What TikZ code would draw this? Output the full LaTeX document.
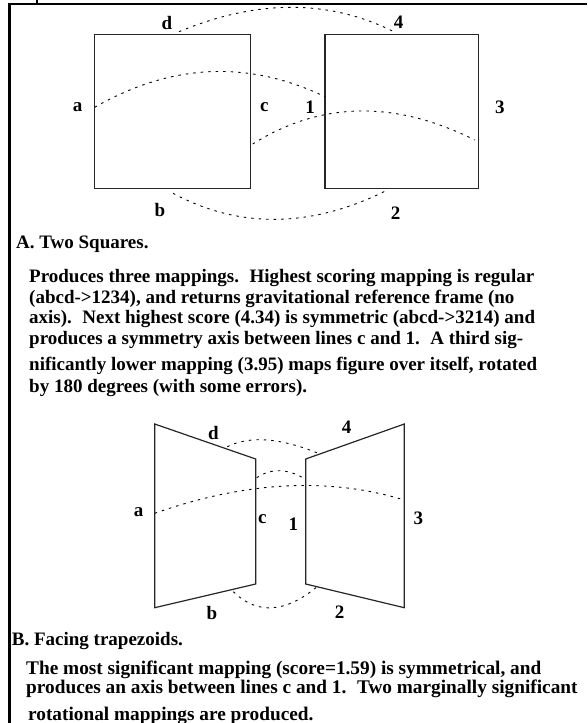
\documentclass[tikz,border=0pt]{standalone}
\usepackage{fontspec}
\setmainfont{Liberation Serif}
\newcommand{\sgap}{\hspace{0.55em}}
\begin{document}
\begin{tikzpicture}[x=1pt, y=-1pt,
      shapeline/.style={draw=black!85, line width=1.2pt},
      maparc/.style={draw=black, line width=0.9pt, dash pattern=on 2.5pt off 5pt},
      framestyle/.style={draw=black, line width=2.6pt},
      lbl/.style={font=\fontsize{19}{20}\selectfont\bfseries, inner sep=0pt},
      txt/.style={font=\fontsize{19}{20}\selectfont\bfseries, inner sep=0pt, anchor=base west},
      txtb/.style={txt, font=\fontsize{19.3}{20}\selectfont\bfseries}]
      \useasboundingbox (0,0) rectangle (587,723);

      % --- A. Two squares ---
      \draw[shapeline] (94.7,34.3) rectangle (250.8,188.3);
      \draw[shapeline] (325,34.3) rectangle (478.5,188.3);

      \node[lbl] (sqd) at (167,22.7) {d};
      \node[lbl] (sq4) at (398.7,22.7) {4};
      \node[lbl] (sqa) at (77.7,107.3) {a};
      \node[lbl] (sqc) at (264.3,107) {c};
      \node[lbl] (sq1) at (310,107) {1};
      \node[lbl] (sq3) at (499.8,107) {3};
      \node[lbl] (sqb) at (160,210) {b};
      \node[lbl] (sq2) at (395.7,213.3) {2};

      % arc end points on the square edges
      \coordinate (sqdA) at (179,31.7);   \coordinate (sq4A) at (395,32.3);
      \coordinate (sqaA) at (94.7,107.3); \coordinate (sq1A) at (325,96.7);
      \coordinate (sqcA) at (252.7,144);  \coordinate (sq3A) at (474.7,140);
      \coordinate (sqbA) at (173,193.3);  \coordinate (sq2A) at (387.5,190);

      \draw[maparc] (sqdA) .. controls (257.7,-1) and (329.7,-0.8) .. (sq4A);
      \draw[maparc] (sqaA) .. controls (171.2,63.4) and (248,59.8) .. (sq1A);
      \draw[maparc] (sqcA) .. controls (320.9,101.3) and (394.9,100) .. (sq3A);
      \draw[maparc] (sqbA) .. controls (240.1,229.1) and (311.6,228) .. (sq2A);

      \node[txt] (headA) at (16,248) {A. Two Squares.};
      \node[txt] (textA1) at (29,282.5) {Produces three mappings.\sgap Highest scoring mapping is regular};
      \node[txt] (textA2) at (29,303) {(abcd->1234), and returns gravitational reference frame (no};
      \node[txt] (textA3) at (29,323.5) {axis).\sgap Next highest score (4.34) is symmetric (abcd->3214) and};
      \node[txt] (textA4) at (29,344) {produces a symmetry axis between lines c and 1.\sgap A third sig-};
      \node[txt] (textA5) at (29,370) {nificantly lower mapping (3.95) maps figure over itself, rotated};
      \node[txt] (textA6) at (29,392) {by 180 degrees (with some errors).};

      % --- B. Facing trapezoids ---
      \draw[shapeline] (154.7,424) -- (255.7,459) -- (255.7,584) -- (154.7,607.7) -- cycle;
      \draw[shapeline] (305.7,459) -- (404.3,424) -- (404.3,607.7) -- (305.7,584) -- cycle;

      \node[lbl] (trd) at (213.3,432.7) {d};
      \node[lbl] (tr4) at (346.7,427.3) {4};
      \node[lbl] (tra) at (138.5,512) {a};
      \node[lbl] (trc) at (262.3,519) {c};
      \node[lbl] (tr1) at (293.3,524) {1};
      \node[lbl] (tr3) at (418.3,518.3) {3};
      \node[lbl] (trb) at (212,613) {b};
      \node[lbl] (tr2) at (339.5,612) {2};

      \coordinate (trdA) at (227.3,446.7); \coordinate (tr4A) at (318.3,453.3);
      \coordinate (trcA) at (256.7,477.7); \coordinate (tr1A) at (305.7,479.3);
      \coordinate (traA) at (154.7,513.3); \coordinate (tr3A) at (404.3,500);
      \coordinate (trbA) at (233.3,591.7); \coordinate (tr2A) at (320,584.3);

      \draw[maparc] (trdA) .. controls (249.5,435.6) and (279.8,437.7) .. (tr4A);
      \draw[maparc] (trcA) .. controls (271.4,467.8) and (287.8,468.4) .. (tr1A);
      \draw[maparc] (traA) .. controls (245.2,481.4) and (328.4,476.9) .. (tr3A);
      \draw[maparc] (trbA) .. controls (257.8,615.5) and (286.7,613) .. (tr2A);

      \node[txt] (headB) at (11.7,645.5) {B. Facing trapezoids.};
      \node[txtb] (textB1) at (26,674.5) {The most significant mapping (score=1.59) is symmetrical, and};
      \node[txtb] (textB2) at (26,693) {produces an axis between lines c and 1.\sgap Two marginally significant};
      \node[txtb] (textB3) at (28,720) {rotational mappings are produced.};

      % Frame
      \draw[framestyle] (9.5,723) -- (9.5,4) -- (587,4);
      \draw[line width=1.5pt] (37,0) -- (37,4);
    \end{tikzpicture}
\end{document}
